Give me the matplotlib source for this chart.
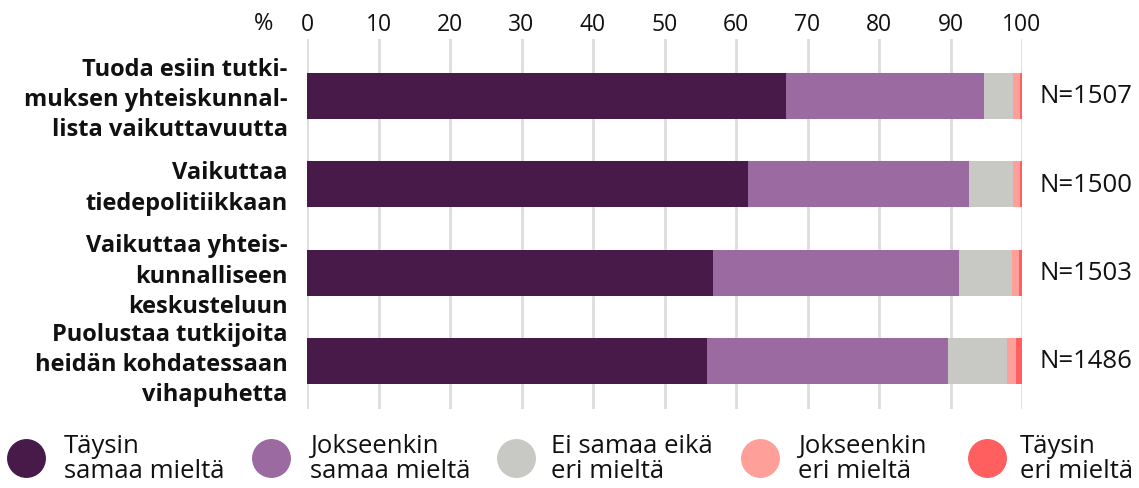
import matplotlib
matplotlib.use('Agg')
import matplotlib.pyplot as plt
from matplotlib.lines import Line2D
from matplotlib.transforms import ScaledTranslation
import numpy as np

plt.rcParams['font.family'] = ['Open Sans', 'DejaVu Sans']

# Data
categories = [
    'Tuoda esiin tutki-\nmuksen yhteiskunnal-\nlista vaikuttavuutta',
    'Vaikuttaa\ntiedepolitiikkaan',
    'Vaikuttaa yhteis-\nkunnalliseen\nkeskusteluun',
    'Puolustaa tutkijoita\nheidän kohdatessaan\nvihapuhetta',
]
n_labels = ['N=1507', 'N=1500', 'N=1503', 'N=1486']
series_names = ['Täysin\nsamaa mieltä', 'Jokseenkin\nsamaa mieltä', 'Ei samaa eikä\neri mieltä',
                'Jokseenkin\neri mieltä', 'Täysin\neri mieltä']
taysin_samaa = [67.0, 61.7, 56.8, 55.9]
jokseenkin_samaa = [27.7, 30.9, 34.4, 33.8]
ei_samaa_eika = [4.0, 6.1, 7.4, 8.2]
jokseenkin_eri = [1.0, 1.0, 1.0, 1.3]
taysin_eri = [0.3, 0.3, 0.4, 0.8]
colors = ['#481a4a', '#9b6aa0', '#c8c8c4', '#ff9f9a', '#ff5f5f']
xticks = [0, 10, 20, 30, 40, 50, 60, 70, 80, 90, 100]

values = [taysin_samaa, jokseenkin_samaa, ei_samaa_eika, jokseenkin_eri, taysin_eri]

W, H = 1139, 489
fig = plt.figure(figsize=(W / 100, H / 100), dpi=100)
ax = fig.add_axes([307 / W, 1 - 410 / H, (1022 - 307) / W, 370 / H])

y = np.arange(len(categories))
left = np.zeros(len(categories))
for vals, col, name in zip(values, colors, series_names):
    ax.barh(y, vals, left=left, height=0.52, color=col, zorder=2, label=name)
    left += np.array(vals)

for yi, n in zip(y, n_labels):
    ax.text(102.5, yi, n, va='center', ha='left', fontsize=18.5, color='#111111')

ax.set_xlim(0, 100)
ax.set_ylim(3.544, -0.645)
ax.set_xticks(xticks)
ax.xaxis.tick_top()
ax.tick_params(axis='x', length=0, pad=2, labelsize=16.5, colors='#111111')
ax.set_yticks(y)
ax.set_yticklabels(categories, fontsize=17, fontweight='bold', linespacing=1.35)
ax.tick_params(axis='y', length=0, pad=14, colors='#111111')
# nudge the category labels up a little
shift = ScaledTranslation(0, 0.03, fig.dpi_scale_trans)
for lab in ax.get_yticklabels():
    lab.set_transform(lab.get_transform() + shift)
ax.grid(axis='x', color='#dddddd', linewidth=2, zorder=0)
for s in ax.spines.values():
    s.set_visible(False)

fig.text(254 / W, 1 - 24 / H, '%', fontsize=17, ha='left', va='center', color='#111111')

# legend, placed by hand
leg_marker_x = [26, 271, 516, 760, 987]
leg_text_x = [64, 310, 551, 798, 1020]
leg_y = 1 - 459 / H
for mx, tx, col, name in zip(leg_marker_x, leg_text_x, colors, series_names):
    fig.add_artist(Line2D([mx / W], [leg_y], marker='o', markersize=27, color=col,
                          linestyle='none', transform=fig.transFigure))
    fig.text(tx / W, leg_y, name, fontsize=18.5, ha='left', va='center', color='#111111',
             linespacing=1.05)

plt.savefig('out.png', dpi=100)
